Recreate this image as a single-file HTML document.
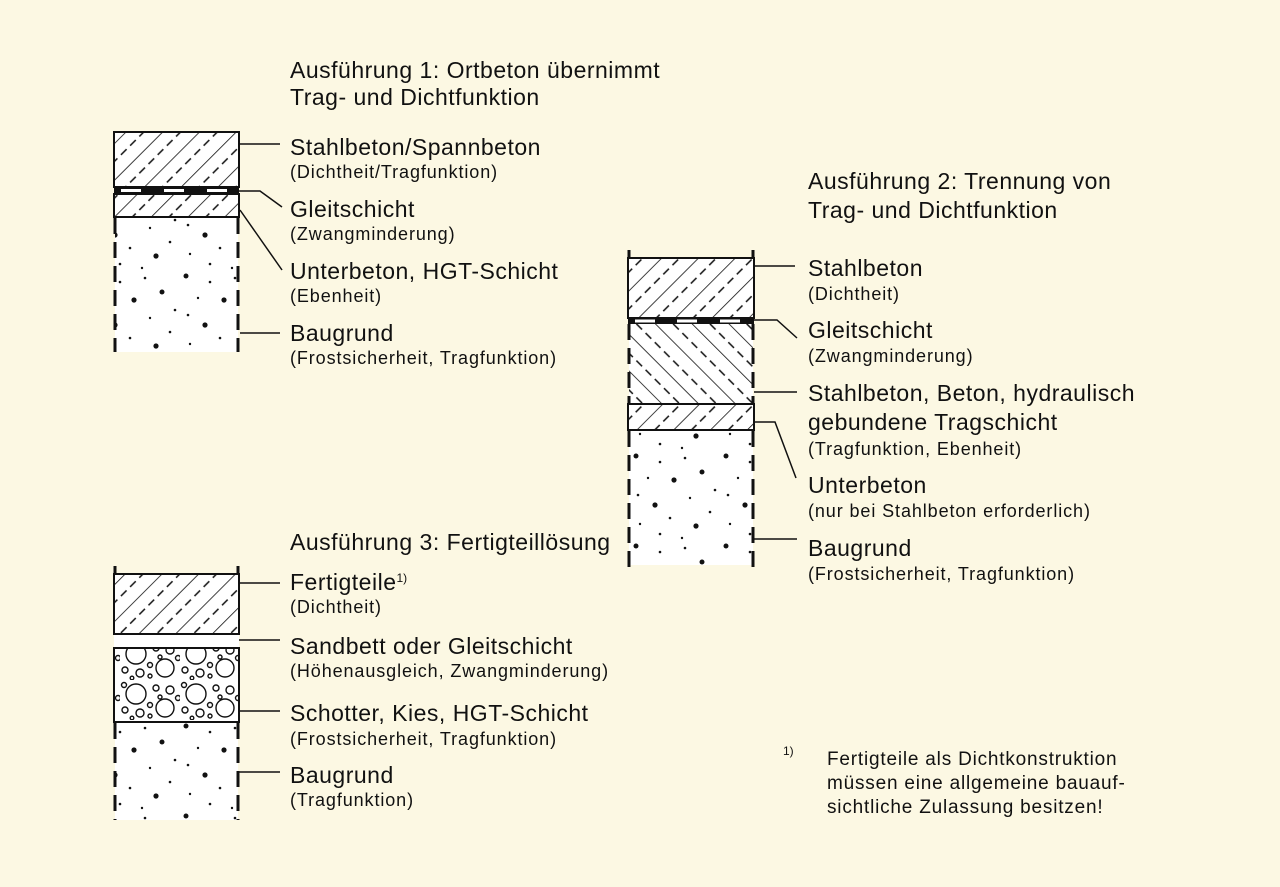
<!DOCTYPE html>
<html><head><meta charset="utf-8"><style>
html,body{margin:0;padding:0;background:#fcf8e3;}
svg{display:block}
text{font-family:"Liberation Sans",Arial,sans-serif;fill:#111}
.m{font-size:23px;letter-spacing:0.5px}.s{font-size:18px;letter-spacing:0.9px}
.f{font-size:19px;letter-spacing:0.8px}
</style></head><body>
<svg width="1280" height="887" viewBox="0 0 1280 887" xmlns="http://www.w3.org/2000/svg">
<defs>
<pattern id="h1" width="26" height="26" patternUnits="userSpaceOnUse" patternTransform="rotate(45)">
<rect width="26" height="26" fill="#fff"/>
<line x1="0" y1="0" x2="0" y2="26" stroke="#111" stroke-width="1.6"/>
<line x1="13" y1="3" x2="13" y2="11" stroke="#111" stroke-width="1.5"/>
<line x1="13" y1="16" x2="13" y2="24" stroke="#111" stroke-width="1.5"/>
</pattern>
<pattern id="h2" width="26" height="26" patternUnits="userSpaceOnUse" patternTransform="rotate(-45)">
<rect width="26" height="26" fill="#fff"/>
<line x1="0" y1="0" x2="0" y2="26" stroke="#111" stroke-width="1.6"/>
<line x1="13" y1="3" x2="13" y2="11" stroke="#111" stroke-width="1.5"/>
<line x1="13" y1="16" x2="13" y2="24" stroke="#111" stroke-width="1.5"/>
</pattern>
<pattern id="dots" width="90" height="90" patternUnits="userSpaceOnUse">
<rect width="90" height="90" fill="#fff"/>
<g fill="#111">
<circle cx="6" cy="6" r="2.5"/><circle cx="30" cy="12" r="1.3"/><circle cx="55" cy="8" r="1.3"/><circle cx="72" cy="22" r="2.5"/>
<circle cx="18" cy="28" r="1.2"/><circle cx="44" cy="30" r="2.6"/><circle cx="85" cy="40" r="1.3"/><circle cx="8" cy="45" r="1.3"/>
<circle cx="60" cy="48" r="1.2"/><circle cx="25" cy="55" r="2.6"/><circle cx="80" cy="62" r="1.3"/><circle cx="40" cy="68" r="1.3"/>
<circle cx="10" cy="74" r="1.2"/><circle cx="66" cy="76" r="2.6"/><circle cx="30" cy="84" r="1.3"/><circle cx="52" cy="88" r="1.2"/>
</g>
</pattern>
<pattern id="grav" width="60" height="40" patternUnits="userSpaceOnUse">
<rect width="60" height="40" fill="#fff"/>
<g fill="none" stroke="#111" stroke-width="1.4">
<circle cx="16" cy="14" r="10"/><circle cx="45" cy="28" r="9"/><circle cx="36" cy="8" r="3"/><circle cx="50" cy="10" r="4"/>
<circle cx="5" cy="30" r="3"/><circle cx="20" cy="33" r="4"/><circle cx="30" cy="25" r="2.5"/><circle cx="58" cy="18" r="2.5"/>
<circle cx="4" cy="5" r="2.5"/><circle cx="30" cy="36" r="2"/><circle cx="12" cy="38" r="1.8"/><circle cx="40" cy="17" r="2"/>
</g>
</pattern>
</defs>

<!-- Column 1 -->
<rect x="114" y="132" width="125" height="55" fill="url(#h1)" stroke="#111" stroke-width="2"/>
<rect x="114" y="187" width="125" height="7" fill="#111"/>
<g fill="#fff"><rect x="121" y="189" width="20" height="3"/><rect x="164" y="189" width="20" height="3"/><rect x="207" y="189" width="20" height="3"/></g>
<rect x="114" y="194" width="125" height="23" fill="url(#h1)" stroke="#111" stroke-width="2"/>
<rect x="115" y="218" width="123" height="134" fill="url(#dots)"/>
<g stroke="#111" stroke-width="3" stroke-dasharray="16,8"><line x1="115" y1="218" x2="115" y2="352"/><line x1="238" y1="218" x2="238" y2="352"/></g>
<g stroke="#111" stroke-width="1.5" fill="none">
<line x1="239" y1="144" x2="280" y2="144"/>
<polyline points="239,191 260,191 282,207"/>
<line x1="240" y1="210" x2="282" y2="270"/>
<line x1="240" y1="333" x2="280" y2="333"/>
</g>
<text class="m" x="290" y="78">Ausführung 1: Ortbeton übernimmt</text>
<text class="m" x="290" y="105">Trag- und Dichtfunktion</text>
<text class="m" x="290" y="155">Stahlbeton/Spannbeton</text>
<text class="s" x="290" y="178">(Dichtheit/Tragfunktion)</text>
<text class="m" x="290" y="217">Gleitschicht</text>
<text class="s" x="290" y="240">(Zwangminderung)</text>
<text class="m" x="290" y="279">Unterbeton, HGT-Schicht</text>
<text class="s" x="290" y="302">(Ebenheit)</text>
<text class="m" x="290" y="341">Baugrund</text>
<text class="s" x="290" y="364">(Frostsicherheit, Tragfunktion)</text>

<!-- Column 2 -->
<g stroke="#111" stroke-width="3"><line x1="629" y1="250" x2="629" y2="258"/><line x1="753" y1="250" x2="753" y2="258"/></g>
<rect x="628" y="258" width="126" height="60" fill="url(#h1)" stroke="#111" stroke-width="2"/>
<rect x="628" y="318" width="126" height="6" fill="#111"/>
<g fill="#fff"><rect x="635" y="319.5" width="20" height="3"/><rect x="677" y="319.5" width="20" height="3"/><rect x="720" y="319.5" width="20" height="3"/></g>
<rect x="629" y="324" width="124" height="80" fill="url(#h2)"/>
<g stroke="#111" stroke-width="3" stroke-dasharray="16,8"><line x1="629" y1="324" x2="629" y2="404"/><line x1="753" y1="324" x2="753" y2="404"/></g>
<rect x="628" y="404" width="126" height="26" fill="url(#h1)" stroke="#111" stroke-width="2"/>
<rect x="629" y="431" width="124" height="134" fill="url(#dots)"/>
<g stroke="#111" stroke-width="3" stroke-dasharray="16,8"><line x1="629" y1="431" x2="629" y2="572"/><line x1="753" y1="431" x2="753" y2="572"/></g>
<g stroke="#111" stroke-width="1.5" fill="none">
<line x1="754" y1="266" x2="795" y2="266"/>
<polyline points="754,320 777,320 797,338"/>
<line x1="754" y1="392" x2="797" y2="392"/>
<polyline points="754,422 775,422 796,478"/>
<line x1="754" y1="539" x2="797" y2="539"/>
</g>
<text class="m" x="808" y="189">Ausführung 2: Trennung von</text>
<text class="m" x="808" y="218">Trag- und Dichtfunktion</text>
<text class="m" x="808" y="276">Stahlbeton</text>
<text class="s" x="808" y="300">(Dichtheit)</text>
<text class="m" x="808" y="338">Gleitschicht</text>
<text class="s" x="808" y="362">(Zwangminderung)</text>
<text class="m" x="808" y="401">Stahlbeton, Beton, hydraulisch</text>
<text class="m" x="808" y="430">gebundene Tragschicht</text>
<text class="s" x="808" y="455">(Tragfunktion, Ebenheit)</text>
<text class="m" x="808" y="493">Unterbeton</text>
<text class="s" x="808" y="517">(nur bei Stahlbeton erforderlich)</text>
<text class="m" x="808" y="556">Baugrund</text>
<text class="s" x="808" y="580">(Frostsicherheit, Tragfunktion)</text>

<!-- Column 3 -->
<g stroke="#111" stroke-width="3"><line x1="115" y1="566" x2="115" y2="574"/><line x1="238" y1="566" x2="238" y2="574"/></g>
<rect x="114" y="574" width="125" height="60" fill="url(#h1)" stroke="#111" stroke-width="2"/>
<rect x="114" y="635" width="125" height="13" fill="#fff"/>
<rect x="114" y="648" width="125" height="74" fill="url(#grav)" stroke="#111" stroke-width="2"/>
<rect x="115" y="723" width="123" height="97" fill="url(#dots)"/>
<g stroke="#111" stroke-width="3" stroke-dasharray="16,8"><line x1="115" y1="723" x2="115" y2="820"/><line x1="238" y1="723" x2="238" y2="820"/></g>
<g stroke="#111" stroke-width="1.5">
<line x1="239" y1="583" x2="280" y2="583"/>
<line x1="239" y1="640" x2="280" y2="640"/>
<line x1="239" y1="711" x2="280" y2="711"/>
<line x1="239" y1="772" x2="280" y2="772"/>
</g>
<text class="m" x="290" y="550">Ausführung 3: Fertigteillösung</text>
<text class="m" x="290" y="590">Fertigteile<tspan font-size="12" dy="-8" letter-spacing="0">1)</tspan></text>
<text class="s" x="290" y="613">(Dichtheit)</text>
<text class="m" x="290" y="654">Sandbett oder Gleitschicht</text>
<text class="s" x="290" y="677">(Höhenausgleich, Zwangminderung)</text>
<text class="m" x="290" y="721">Schotter, Kies, HGT-Schicht</text>
<text class="s" x="290" y="745">(Frostsicherheit, Tragfunktion)</text>
<text class="m" x="290" y="783">Baugrund</text>
<text class="s" x="290" y="806">(Tragfunktion)</text>

<!-- Footnote -->
<text x="783" y="755" font-size="12">1)</text>
<text class="f" x="827" y="765">Fertigteile als Dichtkonstruktion</text>
<text class="f" x="827" y="789">müssen eine allgemeine bauauf-</text>
<text class="f" x="827" y="813">sichtliche Zulassung besitzen!</text>
</svg>
</body></html>
